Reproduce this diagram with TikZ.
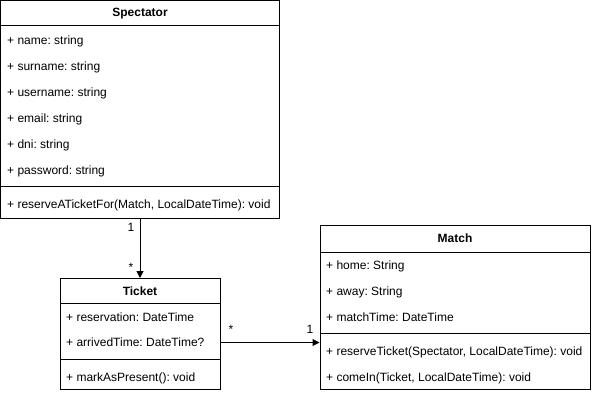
\documentclass[tikz,border=0pt]{standalone}
\usepackage{fontspec}
\setmainfont{Liberation Sans}
\usetikzlibrary{arrows.meta}
\frenchspacing
\begin{document}
\begin{tikzpicture}[x=1pt,y=-1pt,
  box/.style={rectangle, draw=boxdraw, fill=boxfill, line width=1pt, inner sep=0pt},
  title/.style={font=\fontsize{12}{14}\selectfont\bfseries, text=boxtext},
  member/.style={anchor=west, inner sep=0pt, font=\fontsize{12}{14}\selectfont, text=boxtext},
  mult/.style={inner sep=0pt, font=\fontsize{12}{14}\selectfont, text=boxtext},
  assoc/.style={-{Triangle[length=7pt,width=7pt]}, line width=1pt, draw=boxdraw}]
\useasboundingbox (0,0) rectangle (601,404);
%Define all colors here.
\definecolor{boxfill}{RGB}{255,255,255}
\definecolor{boxdraw}{RGB}{0,0,0}
\definecolor{boxtext}{RGB}{0,0,0}

%Spectator
\node(spectator) at (140,13.5) [box, minimum width=279, minimum height=25] {};
\node(spectatorName) at (spectator) [title] {Spectator};
\node(spectatorAttr) at (140,106) [box, minimum width=279, minimum height=160] {};
\node(spectatorMeth) at (140,202) [box, minimum width=279, minimum height=32] {};
\node(sName) at (7,41) [member] {+ name: string};
\node(sSurname) at (7,67) [member] {+ surname: string};
\node(sUsername) at (7,93) [member] {+ username: string};
\node(sEmail) at (7,119) [member] {+ email: string};
\node(sDni) at (7,145) [member] {+ dni: string};
\node(sPassword) at (7,171) [member] {+ password: string};
\node(sReserve) at (7,205) [member] {+ reserveATicketFor(Match, LocalDateTime): void};

%Ticket
\node(ticket) at (140,291) [box, minimum width=160, minimum height=25] {};
\node(ticketName) at (ticket) [title] {Ticket};
\node(ticketAttr) at (140,331) [box, minimum width=160, minimum height=56] {};
\node(ticketMeth) at (140,374) [box, minimum width=160, minimum height=30] {};
\node(tReservation) at (66,317) [member] {+ reservation: DateTime};
\node(tArrived) at (66,342.5) [member] {+ arrivedTime: DateTime?};
\node(tMark) at (66,378) [member] {+ markAsPresent(): void};

%Match
\node(match) at (455,238.5) [box, minimum width=270, minimum height=27] {};
\node(matchName) at (match) [title] {Match};
\node(matchAttr) at (455,292.5) [box, minimum width=270, minimum height=81] {};
\node(matchMeth) at (455,361) [box, minimum width=270, minimum height=56] {};
\node(mHome) at (326,266) [member] {+ home: String};
\node(mAway) at (326,292) [member] {+ away: String};
\node(mTime) at (326,317) [member] {+ matchTime: DateTime};
\node(mReserve) at (326,352) [member] {+ reserveTicket(Spectator, LocalDateTime): void};
\node(mComeIn) at (326,378) [member] {+ comeIn(Ticket, LocalDateTime): void};

%Multiplicities
\node(m1) at (131,227) [mult] {1};
\node(m2) at (131,267) [mult] {*};
\node(m3) at (231,329) [mult] {*};
\node(m4) at (310,329) [mult] {1};

\draw[assoc] (spectatorMeth.south) -- (ticket.north);
\draw[assoc] (ticketAttr.east |- tArrived) -- (matchMeth.west |- tArrived);
\end{tikzpicture}
\end{document}
